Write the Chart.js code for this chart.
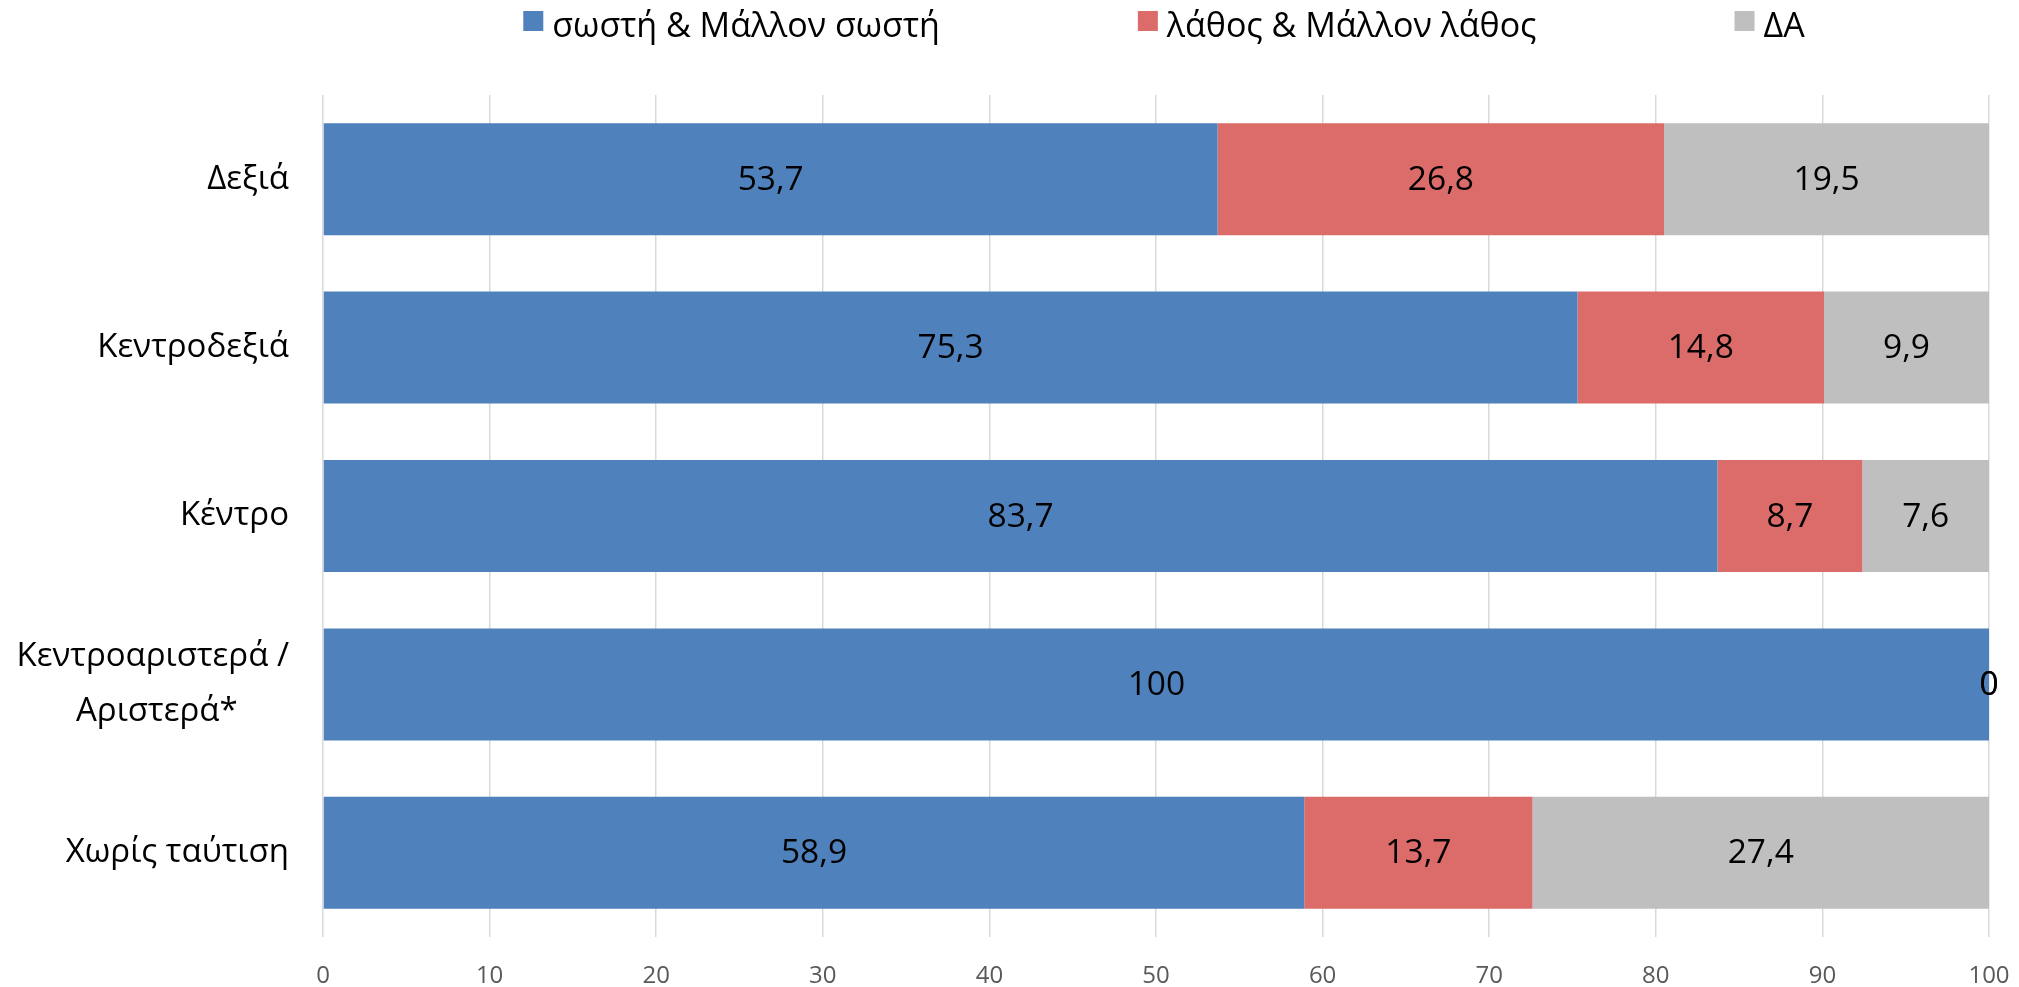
<!DOCTYPE html>
<html lang="el">
<head>
<meta charset="utf-8">
<title>Ταύτιση - σωστή / λάθος</title>
<script src="https://cdn.jsdelivr.net/npm/chart.js@4/dist/chart.umd.min.js"></script>
<style>
  html, body { margin: 0; padding: 0; background: #fff; }
  #wrap { width: 2019px; height: 987px; position: relative; }
</style>
</head>
<body>
<div id="wrap"><canvas id="chart"></canvas></div>
<script>
// Données du graphique
const categories = ["Δεξιά", "Κεντροδεξιά", "Κέντρο", ["Κεντροαριστερά /", "Αριστερά*"], "Χωρίς ταύτιση"];
const seriesNames = ["σωστή & Μάλλον σωστή", "λάθος & Μάλλον λάθος", "ΔΑ"];
const correctValues = [53.7, 75.3, 83.7, 100, 58.9];
const wrongValues = [26.8, 14.8, 8.7, 0, 13.7];
const dkValues = [19.5, 9.9, 7.6, 0, 27.4];
const xTickValues = [0, 10, 20, 30, 40, 50, 60, 70, 80, 90, 100];

const colors = ["#4F81BD", "#DB6C6A", "#BFBFBF"];
const fontFamily = "'Open Sans', sans-serif";
const catFontSize = 33;

// Centre les lignes d'une étiquette sur plusieurs lignes (comme dans Excel)
function centerLines(ctx, lines) {
  ctx.save();
  ctx.font = catFontSize + "px " + fontFamily;
  const widths = lines.map(l => ctx.measureText(l).width);
  const widest = Math.max(...widths);
  const out = lines.map((l, i) => {
    const target = widths[i] + (widest - widths[i]) / 2;
    let padded = l;
    while (ctx.measureText(padded + "\u00a0").width <= target + 2) padded += "\u00a0";
    return padded;
  });
  ctx.restore();
  return out;
}

// Étiquettes de valeurs au centre de chaque segment
const barLabels = {
  id: "barLabels",
  afterDatasetsDraw(chart) {
    const ctx = chart.ctx;
    ctx.save();
    ctx.font = "33.5px " + fontFamily;
    ctx.fillStyle = "#000";
    ctx.textAlign = "center";
    ctx.textBaseline = "middle";
    chart.data.datasets.forEach((ds, i) => {
      chart.getDatasetMeta(i).data.forEach((bar, j) => {
        const txt = String(ds.data[j]).replace(".", ",");
        ctx.fillText(txt, (bar.x + bar.base) / 2, bar.y + 1);
      });
    });
    ctx.restore();
  }
};

// Légende en haut, centrée sur la zone du graphique
const topLegend = {
  id: "topLegend",
  afterDraw(chart) {
    const ctx = chart.ctx;
    const area = chart.chartArea;
    const box = 20, textGap = 9, itemGap = 198;
    ctx.save();
    ctx.font = "34px " + fontFamily;
    const items = chart.data.datasets.map(ds => ({
      text: ds.label,
      color: ds.backgroundColor,
      w: ctx.measureText(ds.label).width
    }));
    const total = items.reduce((s, it) => s + box + textGap + it.w, 0) + itemGap * (items.length - 1);
    let x = (area.left + area.right) / 2 + 8 - total / 2;
    ctx.textBaseline = "alphabetic";
    ctx.textAlign = "left";
    items.forEach(it => {
      ctx.fillStyle = it.color;
      ctx.fillRect(x, 11, box, box);
      ctx.fillStyle = "#000";
      ctx.fillText(it.text, x + box + textGap, 37);
      x += box + textGap + it.w + itemGap;
    });
    ctx.restore();
  }
};

new Chart(document.getElementById("chart"), {
  type: "bar",
  data: {
    labels: categories,
    datasets: [
      { label: seriesNames[0], data: correctValues, backgroundColor: colors[0] },
      { label: seriesNames[1], data: wrongValues, backgroundColor: colors[1] },
      { label: seriesNames[2], data: dkValues, backgroundColor: colors[2] }
    ]
  },
  options: {
    indexAxis: "y",
    responsive: true,
    maintainAspectRatio: false,
    animation: false,
    devicePixelRatio: 1,
    layout: { padding: { top: 95, right: 30, bottom: 0, left: 0 } },
    datasets: { bar: { categoryPercentage: 1, barPercentage: 0.665, borderWidth: 0 } },
    plugins: {
      legend: { display: false },
      tooltip: { enabled: false }
    },
    scales: {
      x: {
        stacked: true,
        min: 0,
        max: 100,
        afterBuildTicks: (scale) => { scale.ticks = xTickValues.map(v => ({ value: v })); },
        afterFit: (scale) => {
          scale.height = 50;
          scale.paddingLeft = 0;
          scale.paddingRight = 0;
        },
        grid: { color: "#D9D9D9", lineWidth: 1.5, drawTicks: false },
        border: { display: false },
        ticks: {
          padding: 25,
          color: "#595959",
          font: { family: fontFamily, size: 24 }
        }
      },
      y: {
        stacked: true,
        afterFit: (scale) => {
          scale.width = 323;
          scale.paddingTop = 0;
          scale.paddingBottom = 0;
        },
        grid: { display: false, drawTicks: false },
        border: { display: false },
        ticks: {
          padding: 34,
          color: "#000",
          font: { family: fontFamily, size: catFontSize, lineHeight: 1.67 },
          callback: function (value) {
            const lbl = this.getLabelForValue(value);
            return Array.isArray(lbl) ? centerLines(this.chart.ctx, lbl) : lbl;
          }
        }
      }
    }
  },
  plugins: [barLabels, topLegend]
});
</script>
</body>
</html>
